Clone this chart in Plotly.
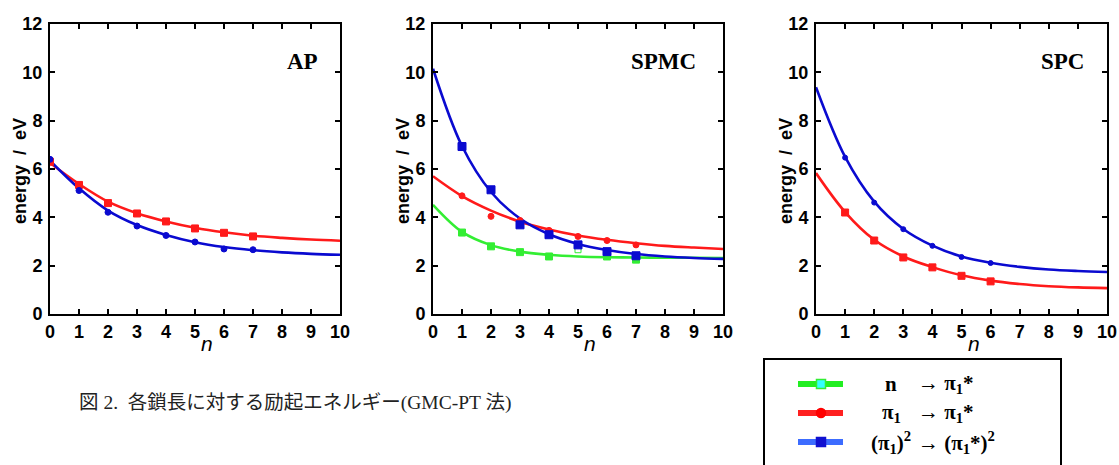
import plotly.graph_objects as go

W, H = 1119, 465

# ---------------- data ----------------
n_fit = [0, 1, 2, 3, 4, 5, 6, 7, 8, 9, 10]

# AP panel
ap_red_n = [0, 1, 2, 3, 4, 5, 6, 7]
ap_red_e = [6.30, 5.34, 4.59, 4.16, 3.83, 3.54, 3.36, 3.21]
ap_blue_n = [0, 1, 2, 3, 4, 5, 6, 7]
ap_blue_e = [6.40, 5.11, 4.21, 3.64, 3.25, 2.98, 2.69, 2.66]
ap_red_fit = [6.25, 5.38, 4.65, 4.17, 3.83, 3.57, 3.38, 3.24, 3.15, 3.08, 3.03]
ap_blue_fit = [6.35, 5.20, 4.28, 3.68, 3.27, 2.97, 2.77, 2.64, 2.55, 2.49, 2.45]

# SPMC panel
spmc_blue_n = [1, 2, 3, 4, 5, 6, 7]
spmc_blue_e = [6.93, 5.14, 3.69, 3.28, 2.86, 2.58, 2.41]
spmc_red_n = [1, 2, 3, 4, 5, 6, 7]
spmc_red_e = [4.89, 4.04, 3.87, 3.46, 3.21, 3.04, 2.86]
spmc_green_n = [1, 2, 3, 4, 6, 7]
spmc_green_e = [3.37, 2.80, 2.56, 2.38, 2.38, 2.25]
spmc_green_open_n = [5]
spmc_green_open_e = [2.66]
spmc_blue_fit = [10.15, 6.95, 5.05, 3.95, 3.30, 2.90, 2.65, 2.48, 2.38, 2.32, 2.28]
spmc_red_fit = [5.70, 4.88, 4.28, 3.82, 3.50, 3.25, 3.07, 2.93, 2.82, 2.75, 2.69]
spmc_green_fit = [4.52, 3.40, 2.85, 2.58, 2.45, 2.38, 2.35, 2.34, 2.33, 2.33, 2.32]

# SPC panel
spc_blue_n = [1, 2, 3, 4, 5, 6]
spc_blue_e = [6.47, 4.61, 3.51, 2.82, 2.36, 2.11]
spc_red_n = [1, 2, 3, 4, 5, 6]
spc_red_e = [4.20, 3.04, 2.34, 1.93, 1.58, 1.35]
spc_blue_fit = [9.38, 6.50, 4.65, 3.52, 2.83, 2.38, 2.12, 1.95, 1.84, 1.78, 1.74]
spc_red_fit = [5.83, 4.22, 3.07, 2.38, 1.94, 1.60, 1.38, 1.24, 1.15, 1.10, 1.07]

panel_titles = ["AP", "SPMC", "SPC"]
x_ticks = [0, 1, 2, 3, 4, 5, 6, 7, 8, 9, 10]
y_ticks = [0, 2, 4, 6, 8, 10, 12]
x_title = "n"
y_title = "energy  /  eV"
legend_labels = [("n", "\u2192 \u03c0<sub>1</sub>*"),
                 ("\u03c0<sub>1</sub>", "\u2192 \u03c0<sub>1</sub>*"),
                 ("(\u03c0<sub>1</sub>)<sup>2</sup>", "\u2192 (\u03c0<sub>1</sub>*)<sup>2</sup>")]
caption = "図 2.  各鎖長に対する励起エネルギー(GMC-PT 法)"

# ---------------- styles ----------------
RED = "#ff1a1a"
BLUE = "#0a0ad0"
GREEN = "#33ee33"
LW = 2.6
SANS = "Liberation Sans, Arial, sans-serif"
TICKFONT = dict(family=SANS, size=18, color="black")
SERIF = "Liberation Serif, Times New Roman, serif"


def px(x):
    return x / W


def py(y):
    return 1 - y / H


fig = go.Figure()


def add_curve(axis, xs, ys, color):
    fig.add_trace(go.Scatter(x=xs, y=ys, mode="lines", line=dict(color=color, width=LW, shape="spline", smoothing=1.0),
                             xaxis="x" + axis, yaxis="y" + axis, showlegend=False, hoverinfo="skip"))


def add_pts(axis, xs, ys, color, symbol, size, fill=None):
    fig.add_trace(go.Scatter(x=xs, y=ys, mode="markers",
                             marker=dict(color=fill or color, symbol=symbol, size=size, line=dict(color=color, width=1)),
                             xaxis="x" + axis, yaxis="y" + axis, showlegend=False))


# AP
add_curve("", n_fit, ap_red_fit, RED)
add_curve("", n_fit, ap_blue_fit, BLUE)
add_pts("", ap_red_n, ap_red_e, RED, "square", 7)
add_pts("", ap_blue_n, ap_blue_e, BLUE, "circle", 6)
# SPMC
add_curve("2", n_fit, spmc_green_fit, GREEN)
add_curve("2", n_fit, spmc_red_fit, RED)
add_curve("2", n_fit, spmc_blue_fit, BLUE)
add_pts("2", spmc_green_n, spmc_green_e, GREEN, "square", 7)
add_pts("2", spmc_green_open_n, spmc_green_open_e, GREEN, "square-open", 6)
add_pts("2", spmc_red_n, spmc_red_e, RED, "circle", 6)
add_pts("2", spmc_blue_n, spmc_blue_e, BLUE, "square", 8)
# SPC
add_curve("3", n_fit, spc_red_fit, RED)
add_curve("3", n_fit, spc_blue_fit, BLUE)
add_pts("3", spc_red_n, spc_red_e, RED, "square", 7)
add_pts("3", spc_blue_n, spc_blue_e, BLUE, "circle", 5)

panels_px = [(50, 340), (433, 723), (816, 1107)]
ydom = [py(314), py(24)]

axis_common = dict(showline=True, linecolor="black", linewidth=2, mirror="ticks", ticks="inside", ticklen=5,
                   tickwidth=1.5, tickcolor="black", showgrid=False, zeroline=False, tickfont=TICKFONT,
                   automargin=False)

layout = dict(width=W, height=H, margin=dict(l=0, r=0, t=0, b=0, autoexpand=False), paper_bgcolor="white",
              plot_bgcolor="white", showlegend=False)
for i, (x0, x1) in enumerate(panels_px):
    sfx = "" if i == 0 else str(i + 1)
    layout["xaxis" + sfx] = dict(axis_common, domain=[px(x0), px(x1)], range=[0, 10], tickvals=x_ticks,
                                 ticktext=["<b>%d</b>" % v for v in x_ticks], anchor="y" + sfx, ticklabelstandoff=0)
    layout["yaxis" + sfx] = dict(axis_common, domain=ydom, range=[0, 12], tickvals=y_ticks,
                                 ticktext=["<b>%d</b>" % v for v in y_ticks], anchor="x" + sfx, ticklabelstandoff=2)
fig.update_layout(**layout)

# axis titles
for x0, x1 in panels_px:
    fig.add_annotation(x=px((x0 + x1) / 2 + 12), y=py(343), xref="paper", yref="paper", text="<i>%s</i>" % x_title,
                       showarrow=False, xanchor="center", yanchor="middle",
                       font=dict(family=SANS, size=21, color="black"))
    fig.add_annotation(x=px(x0 - 30), y=py(171), xref="paper", yref="paper", text="<b>%s</b>" % y_title,
                       showarrow=False, xanchor="center", yanchor="middle", textangle=-90,
                       font=dict(family=SANS, size=18, color="black"))

# panel labels
for t, cx in zip(panel_titles, [302, 663, 1062]):
    fig.add_annotation(x=px(cx), y=py(62), xref="paper", yref="paper", text="<b>%s</b>" % t, showarrow=False,
                       xanchor="center", yanchor="middle", font=dict(family=SERIF, size=23, color="black"))

# caption
fig.add_annotation(x=px(78), y=py(403), xref="paper", yref="paper", text=caption, showarrow=False, xanchor="left",
                   yanchor="middle", borderpad=0,
                   font=dict(family="Liberation Serif, Noto Sans CJK JP", size=19.5, color="#222222"))

# legend box (manual)
fig.add_shape(type="rect", xref="paper", yref="paper", x0=px(764), x1=px(1061), y0=py(359), y1=py(475),
              line=dict(color="black", width=2), fillcolor="white")
leg_styles = [("#22ee22", "#33ffff", GREEN, "square"), ("#ff2020", "#ff0000", "#ff0000", "circle"),
              ("#3c6cff", "#1010d0", "#1010d0", "square")]
for (ltxt, rtxt), yy, (lc, mf, ml, sym) in zip(legend_labels, [384, 413, 442], leg_styles):
    fig.add_shape(type="line", xref="paper", yref="paper", x0=px(798), x1=px(843), y0=py(yy), y1=py(yy),
                  line=dict(color=lc, width=6))
    r = 4.5
    fig.add_shape(type="rect" if sym == "square" else "circle", xref="paper", yref="paper",
                  x0=px(821 - r), x1=px(821 + r), y0=py(yy - r), y1=py(yy + r),
                  line=dict(color=ml, width=1.5), fillcolor=mf)
    fig.add_annotation(x=px(891), y=py(yy), xref="paper", yref="paper", text="<b>%s</b>" % ltxt, showarrow=False,
                       xanchor="center", yanchor="middle", borderpad=0,
                       font=dict(family=SERIF, size=21, color="black"))
    fig.add_annotation(x=px(917), y=py(yy), xref="paper", yref="paper", text="<b>%s</b>" % rtxt, showarrow=False,
                       xanchor="left", yanchor="middle", borderpad=0,
                       font=dict(family=SERIF, size=21, color="black"))

fig.write_html("out.html", config={"displayModeBar": False},
               post_script="document.body.style.margin='0px';document.body.style.overflow='hidden';")
